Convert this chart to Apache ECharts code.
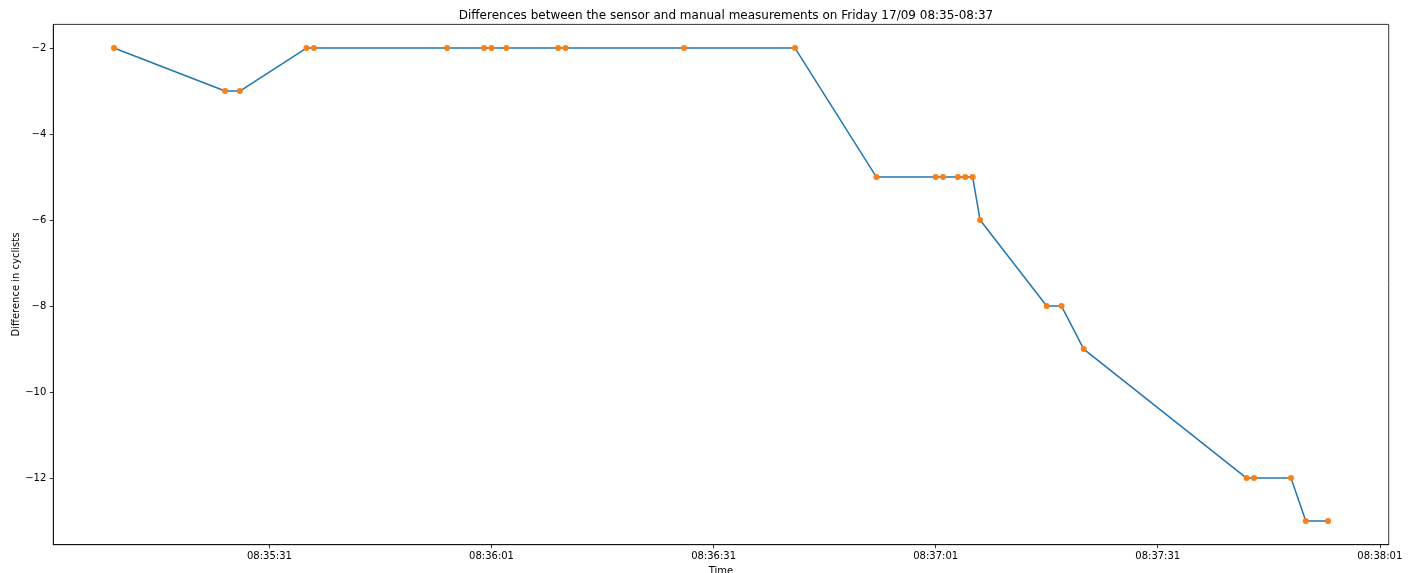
<!DOCTYPE html>
<html>
<head>
<meta charset="utf-8">
<script src="https://cdn.jsdelivr.net/npm/echarts@6/dist/echarts.min.js"></script>
<style>
html,body{margin:0;padding:0;background:#fff;}
#chart{width:1412px;height:573px;}
</style>
</head>
<body>
<div id="chart"></div>
<script>
// Measurement times (HH:MM:SS on Friday 17/09) and differences
var times = ["08:35:10","08:35:25","08:35:27","08:35:36","08:35:37","08:35:55","08:36:00","08:36:01","08:36:03","08:36:10","08:36:11","08:36:27","08:36:42","08:36:53","08:37:01","08:37:02","08:37:04","08:37:05","08:37:06","08:37:07","08:37:16","08:37:18","08:37:21","08:37:43","08:37:44","08:37:49","08:37:51","08:37:54"];
var differences = [-2,-3,-3,-2,-2,-2,-2,-2,-2,-2,-2,-2,-2,-5,-5,-5,-5,-5,-5,-6,-8,-8,-9,-12,-12,-12,-13,-13];
var xTickLabels = ["08:35:31","08:36:01","08:36:31","08:37:01","08:37:31","08:38:01"];
var yTickValues = [-12,-10,-8,-6,-4,-2];

function toSec(s){
  var p = s.split(":").map(Number);
  return p[0]*3600 + p[1]*60 + p[2];
}
function pad(n){return (n<10?"0":"")+n;}
function fmt(sec){
  sec = Math.round(sec);
  var h = Math.floor(sec/3600), m = Math.floor((sec%3600)/60), s = sec%60;
  return pad(h)+":"+pad(m)+":"+pad(s);
}
var pts = times.map(function(t,i){return [toSec(t), differences[i]];});
var tMin = toSec(times[0]), tMax = toSec(times[times.length-1]);
var xr = tMax - tMin;
var yMinV = Math.min.apply(null, differences), yMaxV = Math.max.apply(null, differences);
var yr = yMaxV - yMinV;
var xTicks = xTickLabels.map(toSec);
var font = "DejaVu Sans";

var chart = echarts.init(document.getElementById('chart'), null, {renderer:'canvas'});
chart.setOption({
  animation:false,
  backgroundColor:'#fff',
  title:{
    text:"Differences between the sensor and manual measurements on Friday 17/09 08:35-08:37",
    left:721, top:5, textAlign:'center',
    textStyle:{fontFamily:font, fontSize:12, fontWeight:'normal', color:'#000'}
  },
  grid:{left:53.3, right:23.3, top:24.4, bottom:28.3, containLabel:false, outerBoundsMode:'none', show:true, borderColor:'#000', borderWidth:0.8, backgroundColor:'transparent'},
  xAxis:{
    type:'value',
    min:tMin - 0.05*xr, max:tMax + 0.05*xr,
    name:'Time', nameLocation:'middle', nameGap:21.5, nameMoveOverlap:false,
    nameTextStyle:{fontFamily:font, fontSize:10, color:'#000'},
    axisLine:{show:true, onZero:false, lineStyle:{color:'#000', width:0.8}},
    axisTick:{show:true, inside:false, length:3.5, lineStyle:{color:'#000', width:0.8}, customValues:xTicks},
    axisLabel:{fontFamily:font, fontSize:10, color:'#000', margin:7, customValues:xTicks, formatter:function(v){return fmt(v);}},
    splitLine:{show:false}
  },
  yAxis:{
    type:'value',
    min:yMinV - 0.05*yr, max:yMaxV + 0.05*yr,
    name:'Difference in cyclists', nameLocation:'middle', nameGap:32, nameRotate:90, nameMoveOverlap:false,
    nameTextStyle:{fontFamily:font, fontSize:10, color:'#000'},
    axisLine:{show:true, onZero:false, lineStyle:{color:'#000', width:0.8}},
    axisTick:{show:true, inside:false, length:3.5, lineStyle:{color:'#000', width:0.8}, customValues:yTickValues},
    axisLabel:{fontFamily:font, fontSize:10, color:'#000', margin:7, customValues:yTickValues, formatter:function(v){return String(v).replace('-','\u2212');}},
    splitLine:{show:false}
  },
  series:[
    {type:'line', data:pts, showSymbol:false, symbol:'none', lineStyle:{color:'#1f77b4', width:1.5}, z:2},
    {type:'scatter', data:pts, symbol:'circle', symbolSize:6, itemStyle:{color:'#ff7f0e', opacity:1}, z:3}
  ]
});
</script>
</body>
</html>
